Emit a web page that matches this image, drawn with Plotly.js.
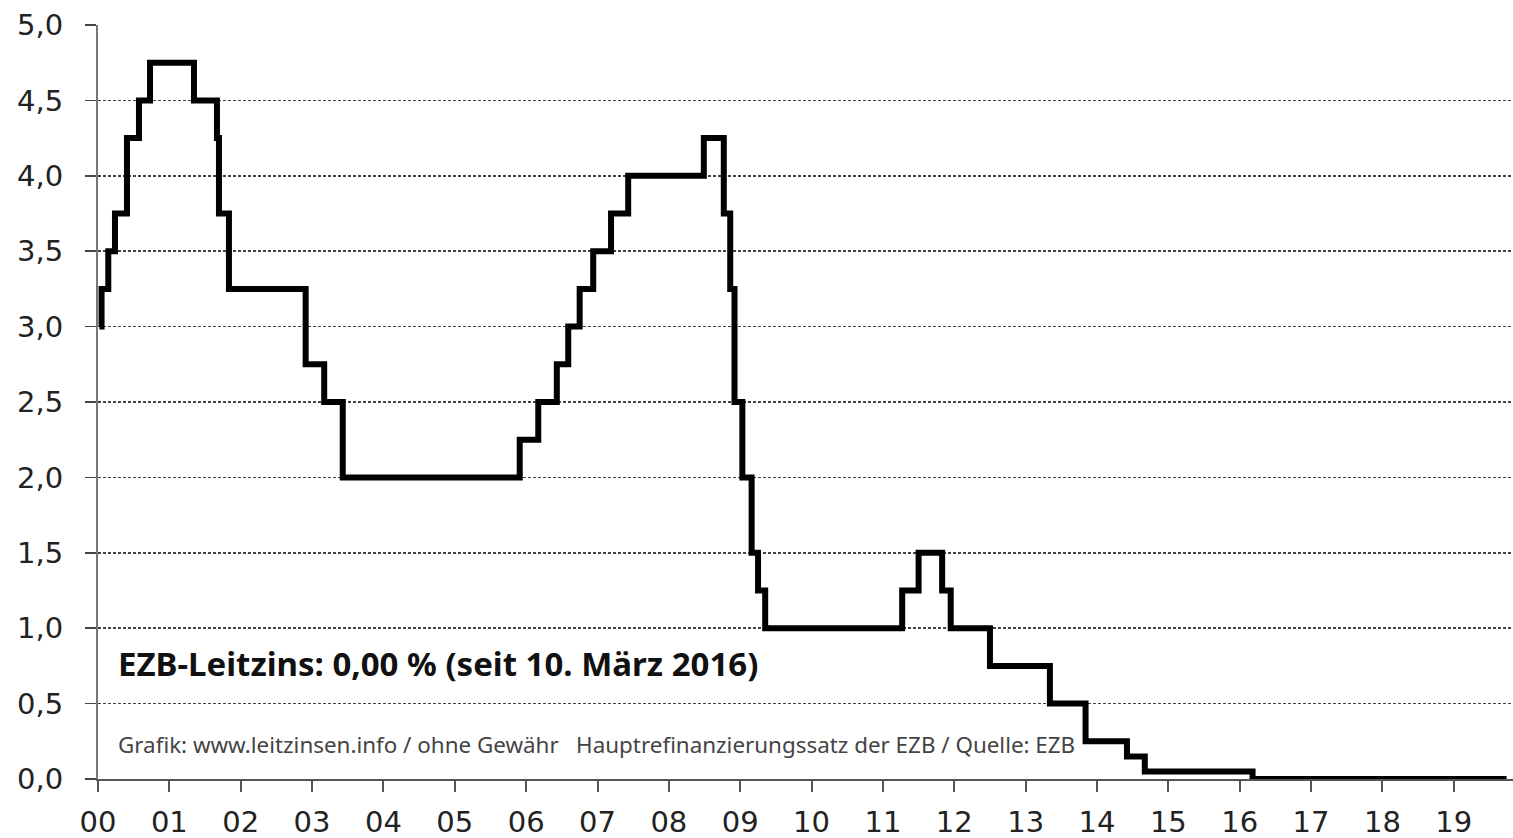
<!DOCTYPE html>
<html>
<head>
<meta charset="utf-8">
<script src="https://cdn.plot.ly/plotly-3.0.1.min.js"></script>
<style>
html,body{margin:0;padding:0;background:#fff;}
#chart{width:1513px;height:838px;}
</style>
</head>
<body>
<div id="chart"></div>
<script>
// Years since start of 2000 where each rate level begins
const years = [0.02, 0.05, 0.144, 0.238, 0.406, 0.574, 0.729, 1.345, 1.667, 1.695, 1.835,
  2.91, 3.17, 3.43, 5.91, 6.17, 6.43, 6.59, 6.75, 6.94, 7.19, 7.43,
  8.49, 8.77, 8.86, 8.92, 9.03, 9.16, 9.25, 9.35,
  11.27, 11.50, 11.83, 11.95, 12.50, 13.34, 13.84, 14.42, 14.67, 16.18, 19.74];
const rates = [3.00, 3.25, 3.50, 3.75, 4.25, 4.50, 4.75, 4.50, 4.25, 3.75, 3.25,
  2.75, 2.50, 2.00, 2.25, 2.50, 2.75, 3.00, 3.25, 3.50, 3.75, 4.00,
  4.25, 3.75, 3.25, 2.50, 2.00, 1.50, 1.25, 1.00,
  1.25, 1.50, 1.25, 1.00, 0.75, 0.50, 0.25, 0.15, 0.05, 0.00, 0.00];

const xTickVals = [0,1,2,3,4,5,6,7,8,9,10,11,12,13,14,15,16,17,18,19];
const xTickText = ['00','01','02','03','04','05','06','07','08','09','10','11','12','13','14','15','16','17','18','19'];
const yTickVals = [0,0.5,1,1.5,2,2.5,3,3.5,4,4.5,5];

const headline = 'EZB-Leitzins: 0,00 % (seit 10. März 2016)';
const sourceNote = 'Grafik: www.leitzinsen.info / ohne Gewähr&nbsp;&nbsp; Hauptrefinanzierungssatz der EZB / Quelle: EZB';

const trace = {
  x: years, y: rates, type: 'scatter', mode: 'lines',
  line: {shape: 'hv', color: '#000', width: 6},
  hoverinfo: 'skip'
};

const layout = {
  width: 1513, height: 838,
  margin: {l: 98, r: 0, t: 25, b: 59},
  paper_bgcolor: '#fff', plot_bgcolor: '#fff',
  showlegend: false,
  separators: ',.',
  font: {family: 'DejaVu Sans, Verdana, sans-serif', color: '#222', size: 29},
  xaxis: {
    range: [0, 19.83], tickvals: xTickVals, ticktext: xTickText,
    showgrid: false, zeroline: false,
    showline: true, linecolor: '#555', linewidth: 2,
    ticks: 'outside', ticklen: 11, tickwidth: 2, tickcolor: '#555',
    ticklabelstandoff: 5,
    tickfont: {size: 29, color: '#222'}, fixedrange: true
  },
  yaxis: {
    range: [0, 5], tickvals: yTickVals, tickformat: '.1f',
    showgrid: true, gridcolor: '#444', gridwidth: 1.5, griddash: '3px,2px',
    zeroline: false,
    showline: true, linecolor: '#777', linewidth: 2,
    ticks: 'outside', ticklen: 11, tickwidth: 1.5, tickcolor: '#444',
    ticklabelstandoff: 16,
    tickfont: {size: 29, color: '#222'}, fixedrange: true
  },
  annotations: [
    {xref: 'x', yref: 'y', x: 0.25, y: 0.763, xanchor: 'left', yanchor: 'middle',
     text: '<b>' + headline + '</b>', showarrow: false,
     font: {family: 'Noto Sans, sans-serif', size: 33, color: '#111'}},
    {xref: 'x', yref: 'y', x: 0.25, y: 0.232, xanchor: 'left', yanchor: 'middle',
     text: sourceNote, showarrow: false,
     font: {family: 'Noto Sans, sans-serif', size: 22.4, color: '#444'}}
  ]
};

Plotly.newPlot('chart', [trace], layout, {displayModeBar: false, staticPlot: true});
</script>
</body>
</html>
